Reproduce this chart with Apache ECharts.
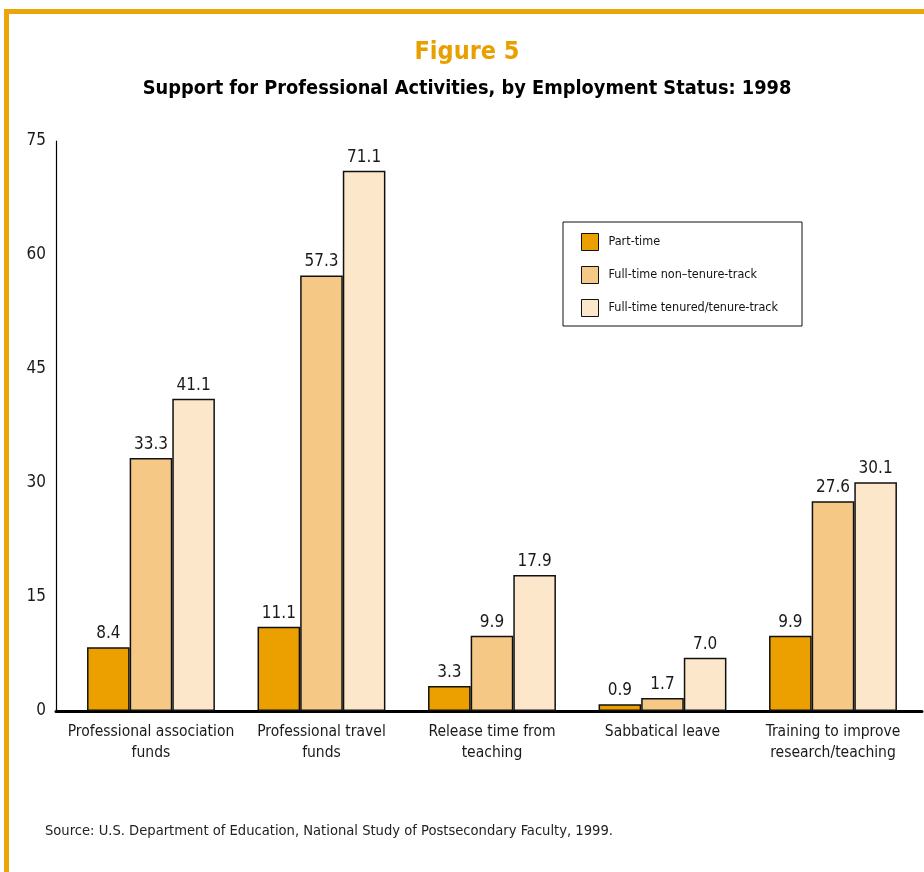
<!DOCTYPE html>
<html>
<head>
<meta charset="utf-8">
<script src="https://cdn.jsdelivr.net/npm/echarts@6/dist/echarts.min.js"></script>
<style>
html,body{margin:0;padding:0;background:#fff;}
#chart{width:924px;height:872px;}
</style>
</head>
<body>
<div id="chart"></div>
<script>
const categories = [
  'Professional association\nfunds',
  'Professional travel\nfunds',
  'Release time from\nteaching',
  'Sabbatical leave',
  'Training to improve\nresearch/teaching'
];
const seriesNames = ['Part-time', 'Full-time non\u2013tenure-track', 'Full-time tenured/tenure-track'];
const partTime = [8.4, 11.1, 3.3, 0.9, 9.9];
const nonTenure = [33.3, 57.3, 9.9, 1.7, 27.6];
const tenured = [41.1, 71.1, 17.9, 7.0, 30.1];
const yTicks = [0, 15, 30, 45, 60, 75];

const FONT = "'Liberation Sans Narrow', 'DejaVu Sans Condensed', 'Liberation Sans', sans-serif";
const colors = ['#EBA000', '#F6C886', '#FCE7CA'];
const frameColor = '#EBA50A';

const chart = echarts.init(document.getElementById('chart'), null, {renderer: 'canvas'});

function mk(name, values, idx) {
  return {
    name: name,
    type: 'bar',
    data: values.map((v, i) => [i, v]),
    barGap: '0%',
    barCategoryGap: '25%',
    itemStyle: {color: colors[idx], borderColor: '#111', borderWidth: 1.5},
    label: {
      show: true, position: 'top', distance: 5,
      fontFamily: FONT, fontSize: 17, color: '#1a1a1a',
      formatter: p => p.value[1].toFixed(1)
    },
    emphasis: {disabled: true},
    z: 2
  };
}

chart.setOption({
  animation: false,
  backgroundColor: '#fff',
  title: [
    {text: 'Figure 5', left: 462, top: 35, textAlign: 'center',
     textStyle: {fontFamily: FONT, fontWeight: 'bold', fontSize: 25, color: '#E8A000'}},
    {text: 'Support for Professional Activities, by Employment Status: 1998', left: 462, top: 74, textAlign: 'center',
     textStyle: {fontFamily: FONT, fontWeight: 'bold', fontSize: 19.8, color: '#000'}},
    {text: 'Source: U.S. Department of Education, National Study of Postsecondary Faculty, 1999.', left: 40, top: 819,
     textStyle: {fontFamily: FONT, fontWeight: 'normal', fontSize: 14.6, color: '#222'}}
  ],
  graphic: [
    {type: 'rect', shape: {x: 4, y: 9, width: 920, height: 5}, style: {fill: frameColor}, silent: true},
    {type: 'rect', shape: {x: 4, y: 9, width: 5, height: 863}, style: {fill: frameColor}, silent: true}
  ],
  legend: {
    orient: 'vertical',
    left: 563, top: 222,
    padding: [11, 24, 9, 18],
    itemWidth: 17, itemHeight: 17, itemGap: 15,
    borderColor: '#111', borderWidth: 1,
    textStyle: {fontFamily: FONT, fontSize: 12.5, color: '#111', padding: [0, 0, 0, 5]},
    data: seriesNames.map((n, i) => ({name: n, icon: 'rect', itemStyle: {color: colors[i], borderColor: '#111', borderWidth: 1}}))
  },
  grid: {left: 56, right: 2, top: 141, bottom: 161, containLabel: false},
  xAxis: {
    type: 'value',
    min: -0.557, max: 4.522,
    splitLine: {show: false},
    axisLine: {show: true, onZero: false, lineStyle: {color: '#000', width: 3}},
    axisTick: {show: false},
    axisLabel: {
      customValues: [0, 1, 2, 3, 4],
      formatter: v => categories[Math.round(v)] || '',
      fontFamily: FONT, fontSize: 15.5, color: '#1a1a1a', lineHeight: 21, margin: 10,
      showMinLabel: true, showMaxLabel: true
    }
  },
  yAxis: {
    type: 'value',
    min: yTicks[0], max: yTicks[yTicks.length - 1], interval: 15,
    splitLine: {show: false},
    axisLine: {show: true, onZero: false, lineStyle: {color: '#000', width: 1.2}},
    axisTick: {show: false},
    axisLabel: {fontFamily: FONT, fontSize: 17, color: '#1a1a1a', margin: 10}
  },
  series: [mk(seriesNames[0], partTime, 0), mk(seriesNames[1], nonTenure, 1), mk(seriesNames[2], tenured, 2)]
});
</script>
</body>
</html>
